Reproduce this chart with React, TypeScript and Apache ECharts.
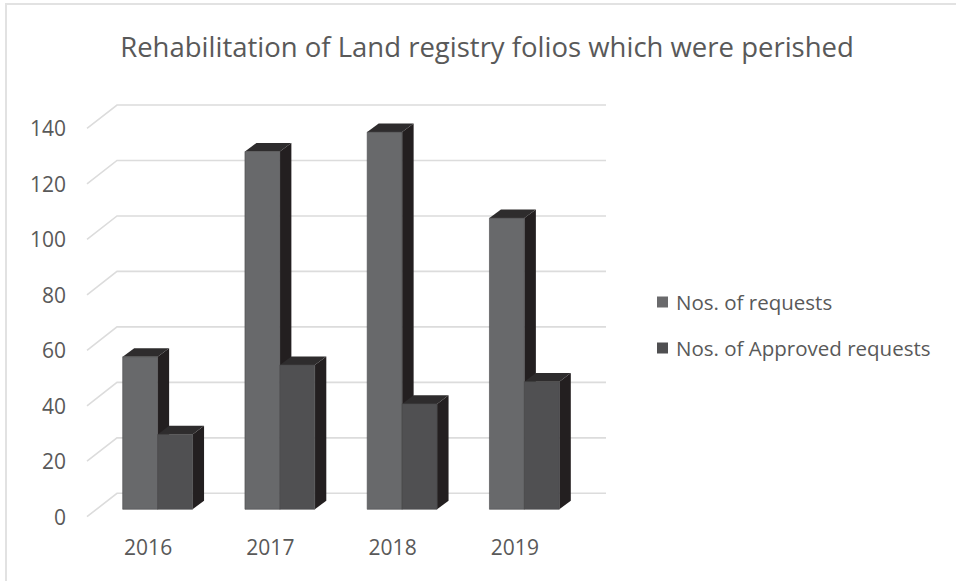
import React, { useEffect, useRef } from "react";
import * as echarts from "echarts";

const categories = ["2016", "2017", "2018", "2019"];
const requests = [55, 129, 136, 105];
const approved = [27, 52, 38, 46];
const yTicks = [0, 20, 40, 60, 80, 100, 120, 140];
const seriesNames = ["Nos. of requests", "Nos. of Approved requests"];

const FRONT_DX = 9.5;
const FRONT_DY = -7.4;
const BAR_DX = 11.5;
const BAR_DY = -8.6;
const WALL_DX = 30;
const WALL_DY = -23.4;
const SIDE = "#231f20";
const TOP = "#2e2c2d";
const FRONT = ["#68696b", "#505052"];
const TEXT = "#595959";
const FONT = "'Open Sans', sans-serif";

function barRenderer(sIdx: number) {
  return (params: any, api: any) => {
    const cat = api.value(0);
    const val = api.value(1);
    const base = api.coord([cat, 0]);
    const topP = api.coord([cat, val]);
    const band = api.size([1, 0])[0];
    const w = band / 3.5;
    const x0 = base[0] + FRONT_DX + (sIdx === 0 ? -w : 0);
    const yb = base[1] + FRONT_DY;
    const yt = topP[1] + FRONT_DY;
    return {
      type: "group",
      children: [
        {
          type: "polygon",
          shape: {
            points: [
              [x0 + w, yt],
              [x0 + w + BAR_DX, yt + BAR_DY],
              [x0 + w + BAR_DX, yb + BAR_DY],
              [x0 + w, yb],
            ],
          },
          style: { fill: SIDE },
        },
        {
          type: "polygon",
          shape: {
            points: [
              [x0, yt],
              [x0 + BAR_DX, yt + BAR_DY],
              [x0 + w + BAR_DX, yt + BAR_DY],
              [x0 + w, yt],
            ],
          },
          style: { fill: TOP },
        },
        {
          type: "rect",
          shape: { x: x0, y: yt, width: w, height: yb - yt },
          style: { fill: FRONT[sIdx], stroke: "#4a4a4c", lineWidth: 0.6 },
        },
      ],
    };
  };
}

function gridRenderer(params: any, api: any) {
  const v = api.value(1);
  const p = api.coord([0, v]);
  const band = api.size([1, 0])[0];
  const xl = p[0] - band / 2;
  const xr = xl + band * categories.length;
  const y = p[1];
  return {
    type: "polyline",
    shape: {
      points: [
        [xl, y],
        [xl + WALL_DX, y + WALL_DY],
        [xr + WALL_DX, y + WALL_DY],
      ],
    },
    style: { stroke: "#dcdcdc", lineWidth: 1.6, fill: "none" },
  };
}

export default function App() {
  const ref = useRef<HTMLDivElement>(null);
  useEffect(() => {
    if (!ref.current) return;
    const chart = echarts.init(ref.current, null, { renderer: "svg" });
    chart.setOption({
      animation: false,
      backgroundColor: "#ffffff",
      textStyle: { fontFamily: FONT },
      graphic: [
        {
          type: "rect",
          shape: { x: 6, y: 4, width: 1200, height: 1200 },
          style: { fill: "none", stroke: "#e2e2e2", lineWidth: 2 },
          silent: true,
        },
        {
          type: "text",
          x: 487,
          y: 46,
          style: {
            text: "Rehabilitation of Land registry folios which were perished",
            fill: TEXT,
            font: `27.5px ${FONT}`,
            textAlign: "center",
            textVerticalAlign: "middle",
          },
        },
      ],
      legend: {
        orient: "vertical",
        left: 652,
        top: 285,
        itemWidth: 11,
        itemHeight: 11,
        itemGap: 22,
        icon: "rect",
        textStyle: { color: TEXT, fontSize: 20.5, fontFamily: FONT, lineHeight: 24, padding: [0, 0, 0, 3] },
        data: [
          { name: seriesNames[0], itemStyle: { color: "#6a6a6c" } },
          { name: seriesNames[1], itemStyle: { color: "#4f4f51" } },
        ],
      },
      grid: { left: 87, right: 380, top: 128.4, bottom: 64.3 },
      xAxis: {
        type: "category",
        data: categories,
        axisLine: { show: false },
        axisTick: { show: false },
        axisLabel: { color: TEXT, fontSize: 21, fontFamily: FONT, margin: 20 },
        splitLine: { show: false },
      },
      yAxis: {
        type: "value",
        min: 0,
        max: 140,
        interval: 20,
        axisLine: { show: false },
        axisTick: { show: false },
        splitLine: { show: false },
        axisLabel: { color: TEXT, fontSize: 21, fontFamily: FONT, margin: 21 },
      },
      series: [
        {
          type: "custom",
          name: "grid",
          silent: true,
          clip: false,
          renderItem: gridRenderer,
          data: yTicks.map((v) => [0, v]),
          z: 1,
        },
        {
          type: "custom",
          name: seriesNames[0],
          clip: false,
          itemStyle: { color: "#6a6a6c" },
          renderItem: barRenderer(0),
          data: categories.map((_, i) => [i, requests[i]]),
          z: 2,
        },
        {
          type: "custom",
          name: seriesNames[1],
          clip: false,
          itemStyle: { color: "#4f4f51" },
          renderItem: barRenderer(1),
          data: categories.map((_, i) => [i, approved[i]]),
          z: 3,
        },
      ],
    });
    return () => chart.dispose();
  }, []);
  return (
    <div
      ref={ref}
      style={{ position: "absolute", left: 0, top: 0, width: 956, height: 581, background: "#fff" }}
    />
  );
}
